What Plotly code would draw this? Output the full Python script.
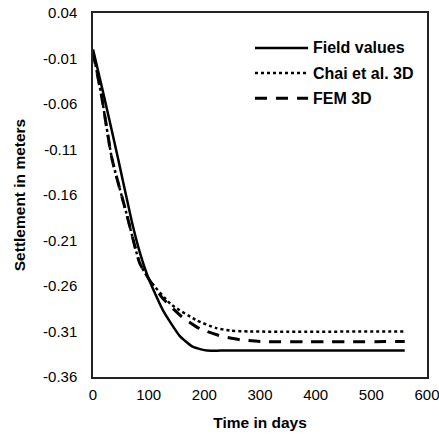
import plotly.graph_objects as go

field_days = [0, 20, 45, 70, 85, 100, 126, 156, 180, 205, 230, 560]
field_vals = [0.0, -0.052, -0.12, -0.19, -0.225, -0.252, -0.287, -0.315, -0.327, -0.331, -0.331, -0.331]

chai_days = [0, 15, 34, 60, 84, 102, 140, 187, 220, 246, 280, 560]
chai_vals = [-0.003, -0.05, -0.12, -0.18, -0.235, -0.254, -0.28, -0.298, -0.306, -0.309, -0.310, -0.310]

fem_days = [0, 15, 34, 60, 84, 100, 126, 160, 192, 230, 264, 300, 560]
fem_vals = [-0.003, -0.05, -0.12, -0.18, -0.235, -0.252, -0.274, -0.294, -0.307, -0.315, -0.319, -0.321, -0.321]

series_names = ["Field values", "Chai et al. 3D", "FEM 3D"]

y_ticks = [0.04, -0.01, -0.06, -0.11, -0.16, -0.21, -0.26, -0.31, -0.36]
y_labels = ["0.04", "-0.01", "-0.06", "-0.11", "-0.16", "-0.21", "-0.26", "-0.31", "-0.36"]
x_ticks = [0, 100, 200, 300, 400, 500, 600]

FONT = "Liberation Sans, Arial, sans-serif"

styles = [
    dict(color="black", width=2.5),
    dict(color="black", width=2.5, dash="3px,3px"),
    dict(color="black", width=3, dash="12px,9px"),
]

fig = go.Figure()
for days, vals, name, st in zip([field_days, chai_days, fem_days],
                                [field_vals, chai_vals, fem_vals], series_names, styles):
    fig.add_trace(go.Scatter(x=days, y=vals, mode="lines", name=name,
                             line=dict(**st, shape="spline", smoothing=0.5), showlegend=False))

# manual legend (paper coordinates)
leg_rows = [0.904, 0.835, 0.766]
for name, st, yy in zip(series_names, styles, leg_rows):
    fig.add_shape(type="line", xref="paper", yref="paper", x0=0.485, x1=0.644, y0=yy, y1=yy,
                  line=st)
    fig.add_annotation(xref="paper", yref="paper", x=0.652, y=yy, xanchor="left", yanchor="middle",
                       text="<b>%s</b>" % name, showarrow=False,
                       font=dict(family=FONT, size=16, color="black"))

fig.update_layout(
    width=439, height=434,
    margin=dict(l=93, r=12, t=13, b=57),
    paper_bgcolor="white", plot_bgcolor="white",
    font=dict(family=FONT, size=15, color="black"),
    showlegend=False,
    hovermode=False,
    xaxis=dict(range=[0, 600], tickvals=x_ticks, showgrid=False, zeroline=False, automargin=False,
               showline=True, mirror=True, linecolor="#222", linewidth=1.5, ticks="",
               ticklabelstandoff=3, ticklabeloverflow="allow",
               title=dict(text="<b>Time in days</b>", standoff=15, font=dict(size=15.5)),
               tickfont=dict(size=15)),
    yaxis=dict(range=[-0.36, 0.04], tickvals=y_ticks, ticktext=y_labels, showgrid=False, zeroline=False,
               automargin=False,
               showline=True, mirror=True, linecolor="#222", linewidth=1.5, ticks="",
               ticklabelstandoff=11, ticklabeloverflow="allow",
               title=dict(text="<b>Settlement in meters</b>", standoff=14, font=dict(size=15.5)),
               tickfont=dict(size=15)),
)

# remove the page's default body margin so the 439x434 figure fills the window exactly
fig.write_html("out.html", config={"displayModeBar": False},
               post_script="document.body.style.margin='0';")
